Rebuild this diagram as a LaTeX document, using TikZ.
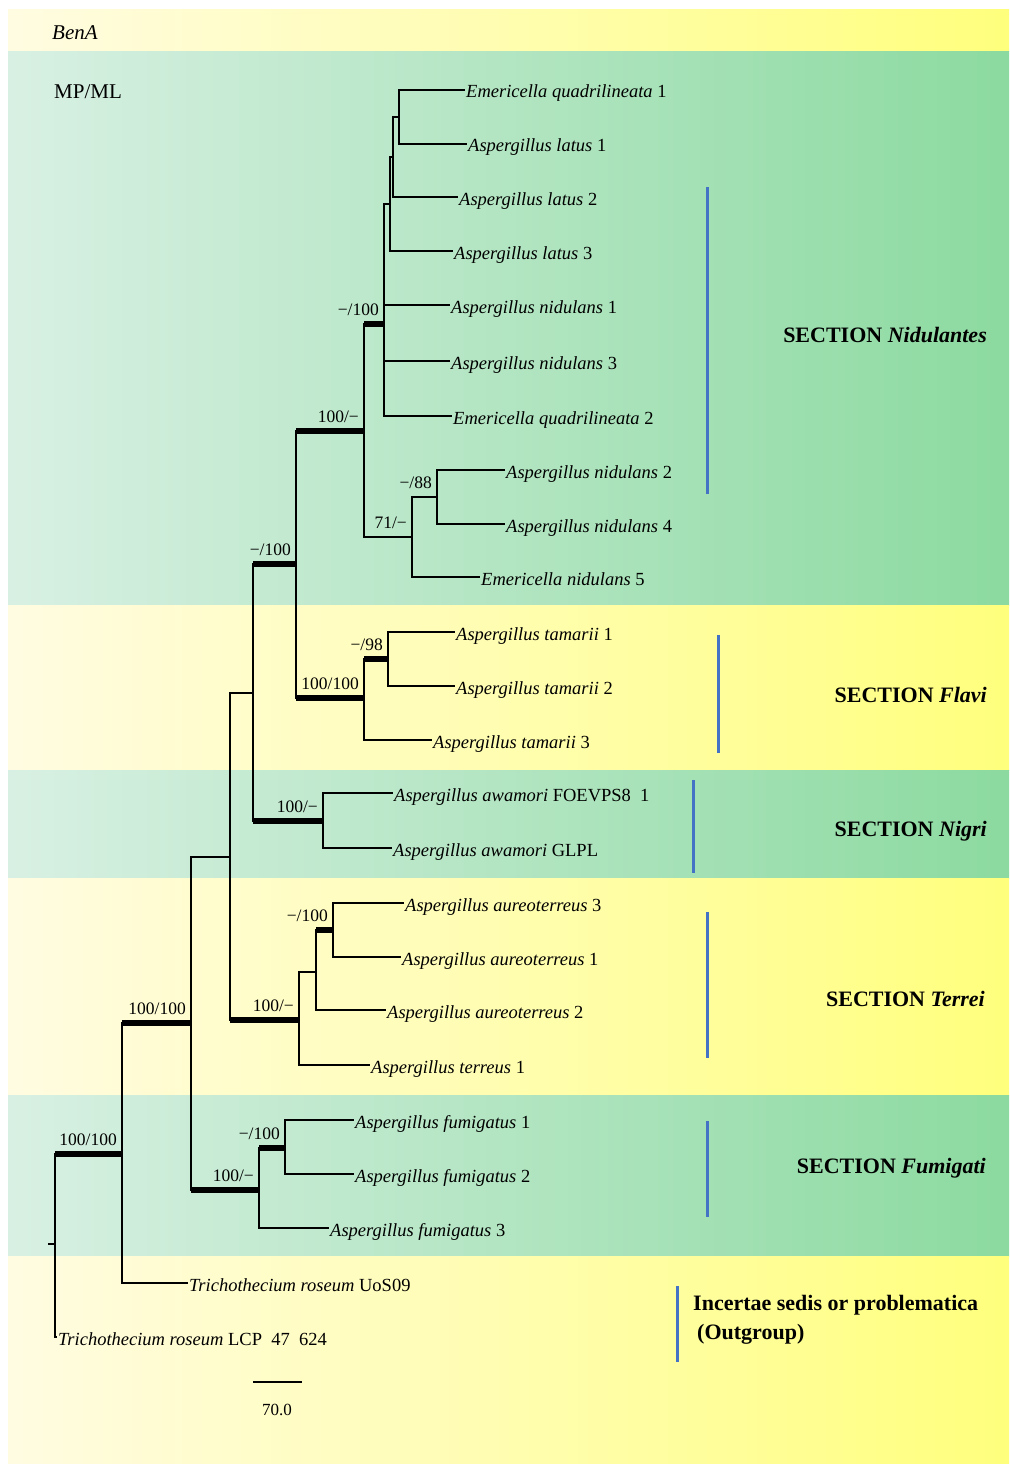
\documentclass[tikz,border=0pt]{standalone}
\usepackage{fontspec}
\setmainfont{Liberation Serif}

\tikzset{
  branch/.style={line width=1.2pt},
  bar/.style={line width=6pt},
  leaf/.style={anchor=west, inner xsep=1pt, inner ysep=0pt, text height=16pt, text depth=-2pt,
    font=\fontsize{18.5}{22}\selectfont},
  support/.style={anchor=east, inner sep=0pt, xshift=-5pt, yshift=14pt,
    font=\fontsize{17.5}{20}\selectfont},
  section/.style={anchor=east, inner sep=0pt, font=\fontsize{22}{29}\selectfont\bfseries},
  clade/.style={draw=myblue, line width=3pt},
}

\begin{document}
\begin{tikzpicture}[x=1pt,y=-1pt]
    \definecolor{mygreenL}{RGB}{216,240,227}
    \definecolor{mygreenR}{RGB}{140,218,160}
    \definecolor{myyellowL}{RGB}{255,252,226}
    \definecolor{myyellowR}{RGB}{255,255,125}
    \definecolor{myblue}{RGB}{68,114,196}

    \useasboundingbox (0,0) rectangle (1009,1466);
    \fill[white] (0,0) rectangle (1009,1466);

    % background bands
    \shade[left color=myyellowL, right color=myyellowR] (8,10) rectangle (1009,52);
    \shade[left color=mygreenL, right color=mygreenR] (8,52) rectangle (1009,605);
    \shade[left color=myyellowL, right color=myyellowR] (8,605) rectangle (1009,770);
    \shade[left color=mygreenL, right color=mygreenR] (8,770) rectangle (1009,878);
    \shade[left color=myyellowL, right color=myyellowR] (8,878) rectangle (1009,1095);
    \shade[left color=mygreenL, right color=mygreenR] (8,1095) rectangle (1009,1256);
    \shade[left color=myyellowL, right color=myyellowR] (8,1256) rectangle (1009,1463);

    \node[anchor=west, inner sep=0pt, font=\fontsize{21}{24}\selectfont\itshape] (gene) at (52,33) {BenA};
    \node[anchor=west, inner sep=0pt, font=\fontsize{21}{24}\selectfont] (method) at (54,92) {MP/ML};

    % internal nodes
    \coordinate (root0) at (48,1244);
    \coordinate (root) at (55,1244);
    \coordinate (A) at (122,1154);
    \coordinate (B) at (191,1023);
    \coordinate (C) at (230,857);
    \coordinate (D) at (253,693);
    \coordinate (E) at (296,564);
    \coordinate (N) at (364,431);
    \coordinate (P) at (384,324);
    \coordinate (L1) at (390,204);
    \coordinate (L2) at (393,157);
    \coordinate (L3) at (399,117);
    \coordinate (Q) at (412,537);
    \coordinate (R) at (437,497);
    \coordinate (Fl) at (364,698);
    \coordinate (S) at (388,659);
    \coordinate (G) at (323,821);
    \coordinate (T) at (299,1020);
    \coordinate (U) at (316,972);
    \coordinate (V) at (333,930);
    \coordinate (F) at (259,1190);
    \coordinate (W) at (285,1148);

    % taxa
    \node[leaf] (eq1) at (465,90) {\textit{Emericella quadrilineata} 1};
    \node[leaf] (lat1) at (467,144) {\textit{Aspergillus latus} 1};
    \node[leaf] (lat2) at (458,197) {\textit{Aspergillus latus} 2};
    \node[leaf] (lat3) at (453,251) {\textit{Aspergillus latus} 3};
    \node[leaf] (nid1) at (450,305) {\textit{Aspergillus nidulans} 1};
    \node[leaf] (nid3) at (450,361) {\textit{Aspergillus nidulans} 3};
    \node[leaf] (eq2) at (452,416) {\textit{Emericella quadrilineata} 2};
    \node[leaf] (nid2) at (505,470) {\textit{Aspergillus nidulans} 2};
    \node[leaf] (nid4) at (505,524) {\textit{Aspergillus nidulans} 4};
    \node[leaf] (en5) at (480,577) {\textit{Emericella nidulans} 5};
    \node[leaf] (tam1) at (455,632) {\textit{Aspergillus tamarii} 1};
    \node[leaf] (tam2) at (455,686) {\textit{Aspergillus tamarii} 2};
    \node[leaf] (tam3) at (432,740) {\textit{Aspergillus tamarii} 3};
    \node[leaf] (awa1) at (393,793) {\textit{Aspergillus awamori} FOEVPS8\ \ 1};
    \node[leaf] (awa2) at (392,848) {\textit{Aspergillus awamori} GLPL};
    \node[leaf] (aur3) at (404,903) {\textit{Aspergillus aureoterreus} 3};
    \node[leaf] (aur1) at (401,957) {\textit{Aspergillus aureoterreus} 1};
    \node[leaf] (aur2) at (386,1010) {\textit{Aspergillus aureoterreus} 2};
    \node[leaf] (ter1) at (370,1065) {\textit{Aspergillus terreus} 1};
    \node[leaf] (fum1) at (354,1120) {\textit{Aspergillus fumigatus} 1};
    \node[leaf] (fum2) at (354,1174) {\textit{Aspergillus fumigatus} 2};
    \node[leaf] (fum3) at (329,1228) {\textit{Aspergillus fumigatus} 3};
    \node[leaf] (uos) at (188,1283) {\textit{Trichothecium roseum} UoS09};
    \node[leaf] (lcp) at (57,1337) {\textit{Trichothecium roseum} LCP\ \ 47\ \ 624};

    % branches
    \draw[branch] (root0) -- (root);
    \draw[branch] (root) |- (A);
    \draw[branch] (root) |- (lcp.west);
    \draw[branch] (A) |- (B);
    \draw[branch] (A) |- (uos.west);
    \draw[branch] (B) |- (C);
    \draw[branch] (B) |- (F);
    \draw[branch] (C) |- (D);
    \draw[branch] (C) |- (T);
    \draw[branch] (D) |- (E);
    \draw[branch] (D) |- (G);
    \draw[branch] (E) |- (N);
    \draw[branch] (E) |- (Fl);
    \draw[branch] (N) |- (P);
    \draw[branch] (N) |- (Q);
    \draw[branch] (P) |- (L1);
    \draw[branch] (P) |- (nid1.west);
    \draw[branch] (P) |- (nid3.west);
    \draw[branch] (P) |- (eq2.west);
    \draw[branch] (L1) |- (L2);
    \draw[branch] (L1) |- (lat3.west);
    \draw[branch] (L2) |- (L3);
    \draw[branch] (L2) |- (lat2.west);
    \draw[branch] (L3) |- (eq1.west);
    \draw[branch] (L3) |- (lat1.west);
    \draw[branch] (Q) |- (R);
    \draw[branch] (Q) |- (en5.west);
    \draw[branch] (R) |- (nid2.west);
    \draw[branch] (R) |- (nid4.west);
    \draw[branch] (Fl) |- (S);
    \draw[branch] (Fl) |- (tam3.west);
    \draw[branch] (S) |- (tam1.west);
    \draw[branch] (S) |- (tam2.west);
    \draw[branch] (G) |- (awa1.west);
    \draw[branch] (G) |- (awa2.west);
    \draw[branch] (T) |- (U);
    \draw[branch] (T) |- (ter1.west);
    \draw[branch] (U) |- (V);
    \draw[branch] (U) |- (aur2.west);
    \draw[branch] (V) |- (aur3.west);
    \draw[branch] (V) |- (aur1.west);
    \draw[branch] (F) |- (W);
    \draw[branch] (F) |- (fum3.west);
    \draw[branch] (W) |- (fum1.west);
    \draw[branch] (W) |- (fum2.west);

    % supported branches
    \draw[bar] (root |- A) -- (A);
    \draw[bar] (A |- B) -- (B);
    \draw[bar] (B |- F) -- (F);
    \draw[bar] (C |- T) -- (T);
    \draw[bar] (D |- E) -- (E);
    \draw[bar] (D |- G) -- (G);
    \draw[bar] (E |- N) -- (N);
    \draw[bar] (E |- Fl) -- (Fl);
    \draw[bar] (N |- P) -- (P);
    \draw[bar] (Fl |- S) -- (S);
    \draw[bar] (U |- V) -- (V);
    \draw[bar] (F |- W) -- (W);

    % support values
    \node[support] (sA) at (A) {100/100};
    \node[support] (sB) at (B) {100/100};
    \node[support] (sF) at (F) {100/−};
    \node[support] (sW) at (W) {−/100};
    \node[support] (sT) at (T) {100/−};
    \node[support] (sV) at (V) {−/100};
    \node[support] (sE) at (E) {−/100};
    \node[support] (sG) at (G) {100/−};
    \node[support] (sN) at (N) {100/−};
    \node[support] (sP) at (P) {−/100};
    \node[support] (sQ) at (Q) {71/−};
    \node[support] (sR) at (R) {−/88};
    \node[support] (sFl) at (Fl) {100/100};
    \node[support] (sS) at (S) {−/98};

    % scale bar
    \draw[branch] (253,1382) -- (302,1382);
    \node[font=\fontsize{17}{20}\selectfont] (scale) at (277,1410) {70.0};

    % sections
    \draw[clade] (707,187) -- (707,494);
    \draw[clade] (718,635) -- (718,753);
    \draw[clade] (693,780) -- (693,873);
    \draw[clade] (707,912) -- (707,1058);
    \draw[clade] (707,1121) -- (707,1217);
    \draw[clade] (677,1286) -- (677,1362);
    \node[section] (secNid) at (987,335) {SECTION \textit{Nidulantes}};
    \node[section] (secFla) at (987,695) {SECTION \textit{Flavi}};
    \node[section] (secNig) at (987,831) {SECTION \textit{Nigri}};
    \node[section] (secTer) at (985,999) {SECTION \textit{Terrei}};
    \node[section] (secFum) at (986,1168) {SECTION \textit{Fumigati}};
    \node[section, anchor=west, align=left] (secOut) at (693,1320) {Incertae sedis or problematica\\\hspace{4pt}(Outgroup)};
\end{tikzpicture}
\end{document}
